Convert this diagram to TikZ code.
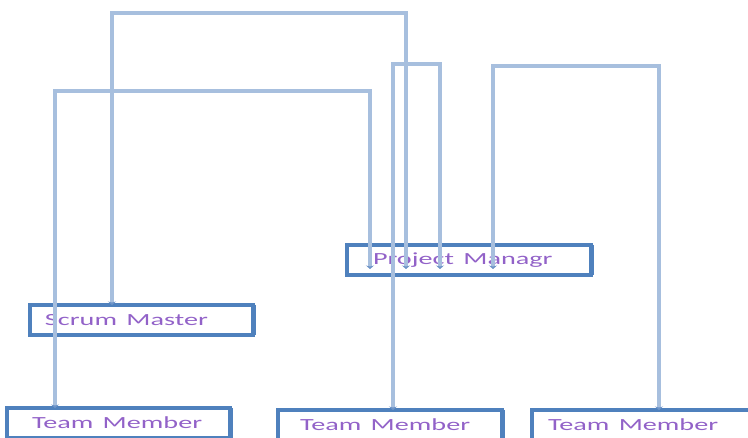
\documentclass[tikz,border=0pt]{standalone}
\usepackage{fontspec}
\newfontfamily\boxfont{Carlito}
\usetikzlibrary{arrows.meta}
\definecolor{boxblue}{RGB}{79,129,189}
\definecolor{linkblue}{RGB}{167,191,222}
\definecolor{tipblue}{RGB}{110,148,200}
\definecolor{namepurple}{RGB}{146,98,200}
\newcommand{\boxtext}[1]{\scalebox{1.66}[1]{#1}}
\begin{document}
\begin{tikzpicture} [x = 1pt, y = -1pt,
  box/.style = {draw = boxblue, line width = 3.2pt, anchor = north west, outer sep = 0pt, inner ysep = 0pt,
    minimum height = 30pt, align = left, text = namepurple, font = \boxfont\fontsize{17}{20}\selectfont,
    append after command = {(\tikzlastnode.north east) edge[draw = boxblue, line width = 5pt] (\tikzlastnode.south east)}},
  link/.style = {draw = linkblue, line width = 3.2pt,
    {Stealth[length = 3.5pt, width = 8pt, color = tipblue]}-{Stealth[length = 3.5pt, width = 8pt, color = tipblue]}}]
\useasboundingbox (0,0) rectangle (748,438);
\clip (0,0) rectangle (748,438);
\node[box, minimum width = 244pt, inner xsep = 26pt, text width = 192pt] (pm) at (347,245) {\boxtext{Project Managr}};
\node[box, minimum width = 223pt, inner xsep = 15pt, text width = 193pt] (sm) at (30,305) {\boxtext{Scrum Master}};
\node[box, minimum width = 223pt, inner xsep = 25pt, text width = 173pt] (tm1) at (7,408) {\boxtext{Team Member}};
\node[box, minimum width = 224pt, inner xsep = 22pt, text width = 180pt] (tm2) at (278,410) {\boxtext{Team Member}};
\node[box, minimum width = 224pt, inner xsep = 16pt, text width = 192pt] (tm3) at (532,410) {\boxtext{Team Member}};
% connector start points inside the project manager box
\coordinate (pm1) at ([shift = {(23pt,6pt)}]pm.south west);
\coordinate (pm2) at ([shift = {(59pt,6pt)}]pm.south west);
\coordinate (pm3) at ([shift = {(93pt,6pt)}]pm.south west);
\coordinate (pm4) at ([shift = {(146pt,6pt)}]pm.south west);
\draw[link] (pm1) -- ++(0,-178) -| ([xshift = 48pt]tm1.north west);
\draw[link] (pm2) -- ++(0,-256) -| ([xshift = 82pt]sm.north west);
\draw[link] (pm3) -- ++(0,-205) -| ([xshift = 115pt]tm2.north west);
\draw[link] (pm4) -- ++(0,-203) -| ([xshift = 127pt]tm3.north west);
\end{tikzpicture}
\end{document}
